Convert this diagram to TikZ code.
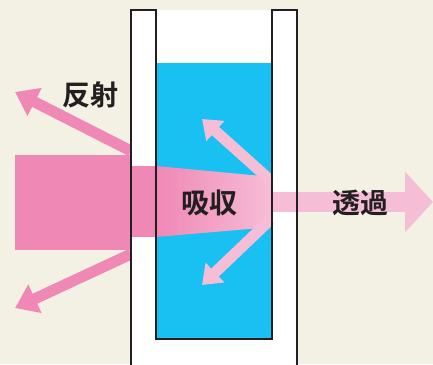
\documentclass[tikz,border=0pt]{standalone}
\usepackage{fontspec}
\newfontfamily\jpfont{Noto Sans CJK JP}[BoldFont={Noto Sans CJK JP Bold}]
\usepackage{xcolor}
\definecolor{paper}{HTML}{F3F0E4}
\definecolor{ink}{HTML}{231F20}
\definecolor{rosa}{HTML}{F088B5}
\definecolor{rosalight}{HTML}{F6BDD7}
\definecolor{fluid}{HTML}{18C1F1}
\usetikzlibrary{arrows.meta}

\begin{document}
\begin{tikzpicture}[x=1pt,y=-1pt,
  lbl/.style={font=\jpfont\bfseries\fontsize{28}{30}\selectfont,text=ink,inner sep=0pt},
  reflexion/.style={rosa,line width=11pt,-{Triangle[length=22pt,width=30pt]}},
  streu/.style={rosalight,line width=11pt,-{Triangle[length=18pt,width=26pt]}}]
  % paper and frame
  \fill[paper] (0,0) rectangle (433,364);
  \useasboundingbox (0,0) rectangle (433,364);
  % incoming light
  \fill[rosa] (15,155) rectangle (131,250);
  \coordinate (hitup) at (131,151);
  \coordinate (hitdn) at (131,254);
  \coordinate (refup) at (15,92);
  \coordinate (refdn) at (15,308);
  \draw[reflexion] (hitup) -- (refup);
  \draw[reflexion] (hitdn) -- (refdn);
  % cuvette glass and liquid
  \fill[white] (131,366) -- (131,10) -- (297,10) -- (297,366) -- cycle;
  \fill[fluid] (156,63) rectangle (272,339);
  % beam inside the cuvette
  \fill[rosa] (131,166) rectangle (156,237);
  \shade[left color=rosa,right color=rosalight] (156,166) -- (272,177) -- (272,227) -- (156,237) -- cycle;
  \coordinate (endup) at (270,180);
  \coordinate (enddn) at (270,220);
  \coordinate (absup) at (202,119);
  \coordinate (absdn) at (202,285);
  \draw[streu] (endup) -- (absup);
  \draw[streu] (enddn) -- (absdn);
  % transmitted light
  \coordinate (exit) at (272,202);
  \coordinate (out) at (433,202);
  \draw[rosalight,line width=20pt,-{Triangle[length=28pt,width=59pt]}] (exit) -- (out);
  % outline of the glass on top
  \draw[ink,line width=2.5pt,line join=miter]
    (131,366) -- (131,10) -- (156,10) -- (156,339) -- (272,339) -- (272,10) -- (297,10) -- (297,366);
  % labels
  \node[lbl] (hansha) at (90,95) {反射};
  \node[lbl] (kyushu) at (209,203) {吸収};
  \node[lbl] (toka) at (360,203) {透過};
\end{tikzpicture}
\end{document}
